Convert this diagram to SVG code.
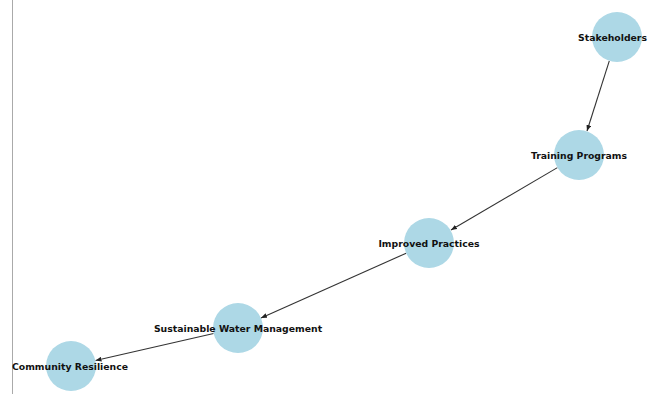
<svg xmlns="http://www.w3.org/2000/svg" width="649" height="394" viewBox="0 0 649 394">
<style>
.node circle{fill:#ADD8E6;stroke:none}
.node text{font-family:"DejaVu Sans",sans-serif;font-weight:bold;font-size:9.3px;fill:#111;text-anchor:middle;dominant-baseline:central}
.edges line{stroke:#333;stroke-width:1.1;marker-end:url(#ah)}
</style>
<defs>
<marker id="ah" viewBox="0 0 10 8" refX="10" refY="4" markerWidth="6" markerHeight="5" orient="auto" markerUnits="userSpaceOnUse">
<path d="M0,0 L10,4 L0,8 Z" fill="#222"/>
</marker>
</defs>
<rect width="649" height="394" fill="#fff"/>
<line x1="12.5" y1="0" x2="12.5" y2="394" stroke="#aaa" stroke-width="1"/>
<g class="edges">
<line x1="609.3" y1="60.8" x2="587" y2="131"/>
<line x1="557.4" y1="167.6" x2="451" y2="230"/>
<line x1="406.2" y1="253.2" x2="261" y2="318"/>
<line x1="213.6" y1="333.5" x2="95.5" y2="360.5"/>
</g>
<g id="stakeholders" class="node"><circle cx="617" cy="37" r="25"/><text x="647" y="37" style="text-anchor:end">Stakeholders</text></g>
<g id="training" class="node"><circle cx="579" cy="155" r="25"/><text x="579" y="155.5">Training Programs</text></g>
<g id="improved" class="node"><circle cx="429" cy="243" r="25"/><text x="429" y="243">Improved Practices</text></g>
<g id="swm" class="node"><circle cx="238" cy="328" r="25"/><text x="238" y="328">Sustainable Water Management</text></g>
<g id="resilience" class="node"><circle cx="71" cy="366" r="25"/><text x="70" y="366">Community Resilience</text></g>
</svg>
